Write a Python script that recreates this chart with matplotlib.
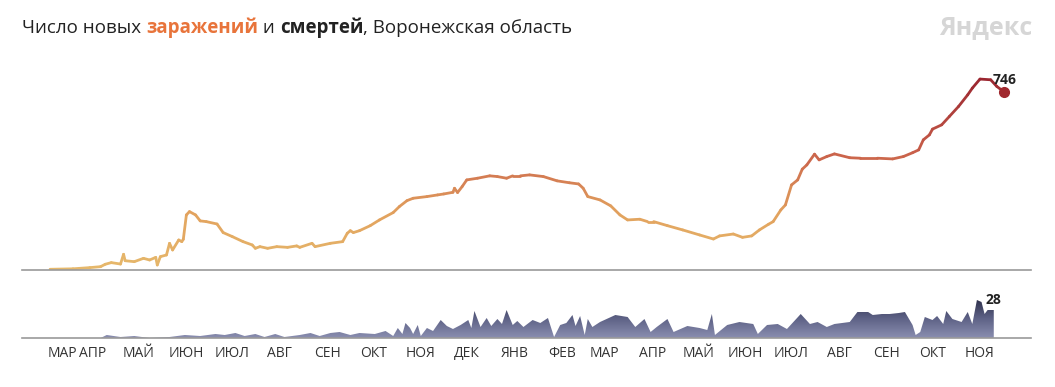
import numpy as np
import pandas as pd
import matplotlib
matplotlib.use("Agg")
import matplotlib.pyplot as plt
import matplotlib.dates as mdates
from matplotlib.collections import LineCollection
from matplotlib.colors import LinearSegmentedColormap
from matplotlib.patches import PathPatch
from matplotlib.path import Path

plt.rcParams['font.family'] = ['Open Sans', 'DejaVu Sans']

# data: days since start date
start_date = pd.Timestamp("2020-03-04")

case_days = [0, 15, 26, 33, 36, 40, 46, 48, 49, 55, 61, 65, 69, 70, 72, 76, 78, 80, 84, 86,
             87, 89, 91, 95, 98, 102, 109, 113, 119, 126, 132, 134, 137, 142, 148, 155, 161, 163,
             171, 173, 183, 191, 194, 196, 198, 202, 209, 215, 224, 228, 233, 237, 246, 253, 257,
             263, 264, 266, 269, 272, 279, 287, 292, 298, 302, 307, 313, 322, 331, 339, 345, 348,
             351, 359, 366, 372, 377, 385, 390, 394, 403, 413, 424, 433, 437, 446, 452, 458, 463,
             469, 472, 477, 480, 484, 488, 491, 494, 499, 502, 507, 512, 522, 529, 540, 550, 557,
             563, 567, 570, 574, 576, 582, 587, 593, 599, 602, 607, 614, 618, 623]
cases = [3, 5, 10, 14, 24, 31, 25, 66, 39, 35, 49, 42, 53, 21, 56, 63, 112, 84, 126, 119,
         129, 231, 245, 231, 206, 203, 193, 157, 140, 119, 105, 91, 98, 91, 98, 95, 101, 95,
         112, 98, 112, 119, 154, 165, 157, 165, 186, 210, 241, 266, 291, 301, 308, 315, 319,
         326, 343, 325, 350, 378, 385, 395, 392, 385, 395, 395, 399, 392, 374, 366, 361, 343,
         308, 294, 269, 231, 210, 213, 203, 203, 186, 168, 147, 130, 143, 151, 137, 143, 168,
         192, 203, 252, 273, 357, 378, 423, 441, 486, 462, 476, 487, 471, 469, 469, 466, 476,
         492, 504, 546, 567, 591, 609, 644, 686, 735, 763, 801, 798, 770, 746]

death_days = [0, 33, 37, 46, 55, 65, 78, 88, 98, 108, 114, 121, 127, 134, 140, 147, 153, 163,
              170, 176, 183, 189, 196, 202, 212, 219, 224, 227, 230, 232, 235, 237, 240, 242,
              246, 250, 255, 259, 263, 268, 273, 275, 277, 281, 285, 288, 292, 295, 298, 302,
              305, 309, 315, 320, 325, 329, 333, 337, 341, 343, 346, 349, 351, 354, 359, 369,
              377, 382, 388, 392, 396, 403, 407, 416, 424, 429, 432, 434, 442, 450, 459, 462,
              468, 475, 481, 490, 496, 501, 507, 512, 522, 527, 534, 537, 543, 548, 554, 558,
              563, 565, 568, 571, 576, 579, 583, 585, 589, 595, 599, 602, 605, 608, 610, 612, 616]
deaths = [0, 0, 3, 1, 2, 0, 1, 3, 2, 4, 3, 5, 2, 4, 1, 4, 1, 3,
          5, 2, 5, 6, 3, 5, 4, 7, 2, 10, 4, 15, 10, 4, 13, 2,
          10, 7, 18, 12, 9, 13, 18, 10, 27, 11, 20, 12, 19, 14, 28, 13,
          17, 11, 18, 15, 20, 1, 13, 15, 23, 12, 22, 3, 19, 11, 16, 23,
          21, 11, 19, 6, 11, 19, 6, 12, 10, 8, 24, 3, 13, 16, 14, 4,
          13, 14, 9, 24, 14, 16, 11, 14, 16, 26, 26, 23, 24, 24, 25, 26,
          13, 3, 6, 21, 18, 22, 14, 27, 19, 16, 26, 14, 38, 36, 24, 28, 28]

month_labels = ["МАР", "АПР", "МАЙ", "ИЮН", "ИЮЛ", "АВГ", "СЕН", "ОКТ", "НОЯ", "ДЕК", "ЯНВ",
                "ФЕВ", "МАР", "АПР", "МАЙ", "ИЮН", "ИЮЛ", "АВГ", "СЕН", "ОКТ", "НОЯ"]
month_ticks = pd.date_range("2020-04-01", "2021-11-01", freq="MS")
# first label is pushed right so it does not run off the chart
month_ticks = [pd.Timestamp("2020-03-12")] + list(month_ticks)

case_dates = start_date + pd.to_timedelta(case_days, unit="D")
death_dates = start_date + pd.to_timedelta(death_days, unit="D")

fig = plt.figure(figsize=(10.55, 3.87), dpi=100)
xmin = start_date - pd.Timedelta(days=18.3)
xmax = start_date + pd.Timedelta(days=640.3)

# ---- cases (top)
ax = fig.add_axes([22 / 1055, (387 - 270) / 387, 1009 / 1055, 210 / 387])
xnum = mdates.date2num(case_dates)
y = np.array(cases, dtype=float)
pts = np.column_stack([xnum, y]).reshape(-1, 1, 2)
segs = np.concatenate([pts[:-1], pts[1:]], axis=1)
cmap = LinearSegmentedColormap.from_list("cases", [(0, "#e6b96c"), (0.3, "#e2a25e"),
                                                   (0.5, "#d37a52"), (0.62, "#c9604a"),
                                                   (1.0, "#9b2630")])
lc = LineCollection(segs, cmap=cmap, norm=plt.Normalize(0, 800), linewidth=2.0,
                    capstyle="round", joinstyle="round")
lc.set_array((y[:-1] + y[1:]) / 2)
ax.add_collection(lc)
ax.plot(case_dates[-1], cases[-1], "o", color="#a0282e", markersize=7, zorder=5)
ax.text(case_dates[-1], cases[-1] + 20, str(cases[-1]), ha="center", va="bottom",
        fontsize=10, fontweight="bold", color="#222222")
ax.set_xlim(xmin, xmax)
ax.set_ylim(0, 881)
for s in ["top", "right", "left"]:
    ax.spines[s].set_visible(False)
ax.spines["bottom"].set_color("#9a9a9a")
ax.spines["bottom"].set_linewidth(1.2)
ax.set_xticks([])
ax.set_yticks([])

# ---- deaths (bottom)
ax2 = fig.add_axes([22 / 1055, (387 - 338) / 387, 1009 / 1055, 45 / 387])
dnum = mdates.date2num(death_dates)
verts = [(dnum[0], 0)] + list(zip(dnum, deaths)) + [(dnum[-1], 0)]
poly = PathPatch(Path(verts), facecolor="none", edgecolor="none")
ax2.add_patch(poly)
grad = np.linspace(0, 1, 100).reshape(-1, 1)
dcmap = LinearSegmentedColormap.from_list("deaths", ["#8a8eb0", "#5d6185", "#2c2e48"])
im = ax2.imshow(grad, cmap=dcmap, aspect="auto", origin="lower",
                extent=[dnum[0], dnum[-1], 0, 40])
im.set_clip_path(poly)
ax2.text(death_dates[-1], deaths[-1] + 3, str(deaths[-1]), ha="center", va="bottom",
         fontsize=10, fontweight="bold", color="#222222")
ax2.set_xlim(mdates.date2num(xmin), mdates.date2num(xmax))
ax2.set_ylim(0, 45)
for s in ["top", "right", "left"]:
    ax2.spines[s].set_visible(False)
ax2.spines["bottom"].set_color("#9a9a9a")
ax2.spines["bottom"].set_linewidth(1.2)
ax2.set_yticks([])
ax2.set_xticks(mdates.date2num(month_ticks))
ax2.set_xticklabels(month_labels, fontsize=10, color="#333333")
ax2.tick_params(axis="x", length=0, pad=6)

# ---- title, built piece by piece for the colored words
parts = [("Число новых ", "normal", "#222222"), ("заражений", "bold", "#e8743b"),
         (" и ", "normal", "#222222"), ("смертей", "bold", "#222222"),
         (", Воронежская область", "normal", "#222222")]
renderer = fig.canvas.get_renderer()
x0 = 22 / 1055
for txt, w, c in parts:
    t = fig.text(x0, 1 - 28 / 387, txt, fontsize=13.5, fontweight=w, color=c, va="center")
    bb = t.get_window_extent(renderer=renderer)
    x0 += bb.width / fig.bbox.width

fig.text(1032 / 1055, 1 - 28 / 387, "Яндекс", fontsize=18, fontweight="bold",
         color="#d6d6d6", ha="right", va="center")

fig.savefig("out.png", dpi=100)
